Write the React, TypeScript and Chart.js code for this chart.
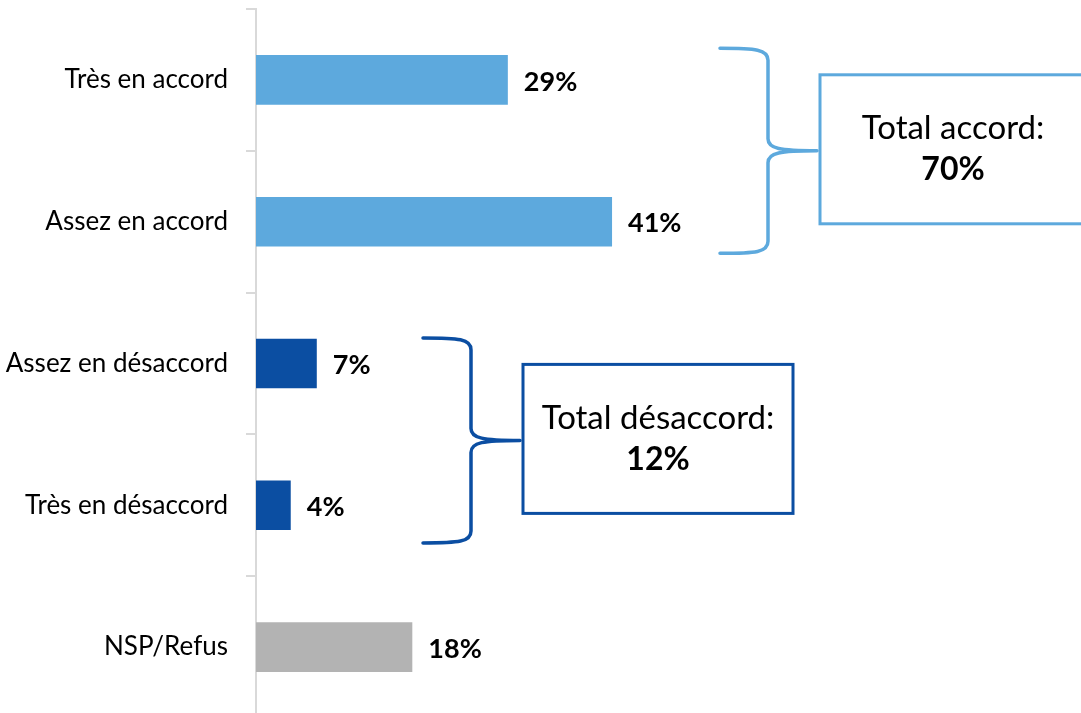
import React, { useEffect, useRef } from "react";
import { Chart, registerables } from "chart.js";

Chart.register(...registerables);

const categories = ["Très en accord", "Assez en accord", "Assez en désaccord", "Très en désaccord", "NSP/Refus"];
const values = [29, 41, 7, 4, 18];
const barColors = ["#5DA9DD", "#5DA9DD", "#0B4EA2", "#0B4EA2", "#B3B3B3"];
const groupTitles = ["Total accord:", "Total désaccord:"];
const groupTotals = [70, 12];
const groupRanges = [[0, 1], [2, 3]];
const groupColors = ["#5DA9DD", "#0B4EA2"];

const FONT = "Lato, 'Noto Sans', sans-serif";

const annotationsPlugin = {
  id: "annotations",
  afterDatasetsDraw(chart: any) {
    const ctx = chart.ctx;
    const y = chart.scales.y;
    const meta = chart.getDatasetMeta(0);
    ctx.save();
    // value labels
    ctx.font = `bold 27px ${FONT}`;
    ctx.fillStyle = "#000";
    ctx.textAlign = "left";
    ctx.textBaseline = "middle";
    meta.data.forEach((bar: any, i: number) => {
      ctx.fillText(values[i] + "%", bar.x + 16, bar.y + 2);
    });

    const layouts = [
      { x0: 720, xv: 768, xtip: 817, boxL: 820, boxR: 1095, centerX: 953, dy: 0 },
      { x0: 423, xv: 471, xtip: 520, boxL: 523, boxR: 793, centerX: 658, dy: 6 },
    ];
    groupRanges.forEach((r, gi) => {
      const L = layouts[gi];
      const yA = y.getPixelForValue(r[0]);
      const yB = y.getPixelForValue(r[1]);
      const mid = (yA + yB) / 2 + L.dy;
      const top = mid - 102.5;
      const bottom = mid + 102.5;
      ctx.strokeStyle = groupColors[gi];
      ctx.lineWidth = 3.5;
      ctx.lineCap = "round";
      ctx.beginPath();
      ctx.moveTo(L.x0, top);
      ctx.bezierCurveTo(L.x0 + 36, top, L.xv, top + 1, L.xv, top + 12);
      ctx.lineTo(L.xv, mid - 12);
      ctx.bezierCurveTo(L.xv, mid - 2, L.xv + 12, mid, L.xtip, mid);
      ctx.moveTo(L.xtip, mid);
      ctx.bezierCurveTo(L.xv + 12, mid, L.xv, mid + 2, L.xv, mid + 12);
      ctx.lineTo(L.xv, bottom - 12);
      ctx.bezierCurveTo(L.xv, bottom - 1, L.x0 + 36, bottom, L.x0, bottom);
      ctx.stroke();

      ctx.lineWidth = 3;
      const bTop = mid - 76;
      const bBot = mid + 73;
      ctx.strokeRect(L.boxL, bTop, L.boxR - L.boxL, bBot - bTop);

      ctx.fillStyle = "#000";
      ctx.textAlign = "center";
      ctx.textBaseline = "middle";
      ctx.font = `33px ${FONT}`;
      ctx.fillText(groupTitles[gi], L.centerX, mid - 22);
      ctx.font = `bold 32px ${FONT}`;
      ctx.fillText(groupTotals[gi] + "%", L.centerX, mid + 19);
    });
    ctx.restore();
  },
};

export default function App() {
  const ref = useRef<HTMLCanvasElement | null>(null);
  useEffect(() => {
    if (!ref.current) return;
    const chart = new Chart(ref.current, {
      type: "bar",
      data: {
        labels: categories,
        datasets: [
          {
            data: values,
            backgroundColor: barColors,
            borderWidth: 0,
            categoryPercentage: 1,
            barPercentage: 0.35,
          },
        ],
      },
      options: {
        indexAxis: "y",
        animation: false,
        responsive: true,
        maintainAspectRatio: false,
        layout: { autoPadding: false, padding: { top: 9, right: 0, bottom: 0, left: 0 } },
        plugins: { legend: { display: false }, tooltip: { enabled: false } },
        scales: {
          x: { display: false, min: 0, max: 95 },
          y: {
            afterFit(scale: any) {
              scale.width = 256;
              scale.paddingTop = 0;
              scale.paddingBottom = 0;
            },
            border: { display: true, color: "#d9d9d9", width: 2 },
            grid: { display: true, drawOnChartArea: false, drawTicks: true, tickLength: 10, color: "#d9d9d9", lineWidth: 2 },
            ticks: { color: "#000", font: { family: FONT, size: 26 }, padding: 18 },
          },
        },
      },
      plugins: [annotationsPlugin],
    });
    return () => chart.destroy();
  }, []);
  return (
    <div style={{ position: "fixed", left: 0, top: 0, width: 1081, height: 713, overflow: "hidden", background: "#fff" }}>
      <div style={{ position: "relative", width: 1081, height: 718 }}>
        <canvas ref={ref} />
      </div>
    </div>
  );
}
